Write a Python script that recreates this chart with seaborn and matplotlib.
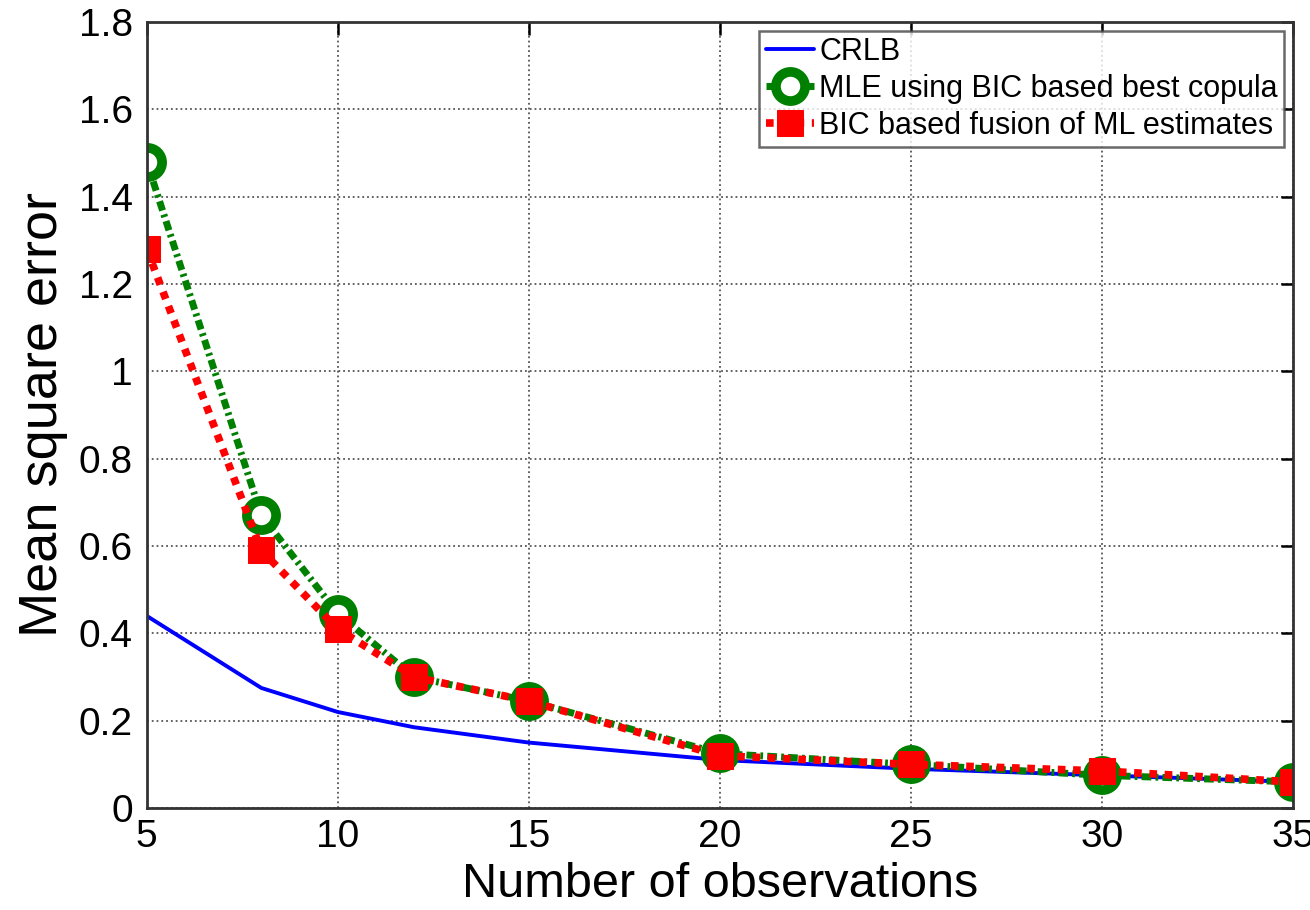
import numpy as np
import pandas as pd
import seaborn as sns
import matplotlib
matplotlib.use("Agg")
import matplotlib.pyplot as plt

# values
n_obs = [5, 8, 10, 12, 15, 20, 25, 30, 35]
crlb = [0.44, 0.275, 0.22, 0.185, 0.15, 0.11, 0.09, 0.075, 0.06]
mle_best = [1.48, 0.67, 0.445, 0.30, 0.245, 0.125, 0.10, 0.075, 0.06]
bic_fusion = [1.28, 0.59, 0.41, 0.30, 0.245, 0.12, 0.10, 0.085, 0.06]

sns.set_theme(style="white")
plt.rcParams['font.family'] = ['Liberation Sans', 'DejaVu Sans']

fig, ax = plt.subplots(figsize=(13.1, 9.1), dpi=100)

sns.lineplot(x=n_obs, y=crlb, ax=ax, color="#0000ff", linewidth=2.8, label="CRLB")
sns.lineplot(x=n_obs, y=mle_best, ax=ax, color="#008000", linewidth=5,
             dashes=False, marker="o", markersize=21, markerfacecolor="white",
             markeredgecolor="#008000", markeredgewidth=7,
             label="MLE using BIC based best copula")
ax.lines[-1].set_linestyle((0, (1.4, 0.6, 0.4, 0.6)))
sns.lineplot(x=n_obs, y=bic_fusion, ax=ax, color="#ff0000", linewidth=5.5,
             marker="s", markersize=19, markerfacecolor="#ff0000",
             markeredgecolor="#ff0000", label="BIC based fusion of ML estimates")
ax.lines[-1].set_linestyle((0, (1, 1)))

ax.set_xlim(5, 35)
ax.set_ylim(0, 1.8)
ax.set_xticks([5, 10, 15, 20, 25, 30, 35])
ax.set_yticks(np.arange(0, 1.81, 0.2))
ax.set_yticklabels(["0", "0.2", "0.4", "0.6", "0.8", "1", "1.2", "1.4", "1.6", "1.8"])
ax.grid(True, linestyle=":", color="#555555", linewidth=1.3)
ax.tick_params(direction="in", length=9, width=1.8, labelsize=28, top=True, right=True,
               pad=10, colors="black")
ax.tick_params(axis="x", pad=8)
for s in ax.spines.values():
    s.set_visible(True)
    s.set_color("#333333")
    s.set_linewidth(2)

ax.set_xlabel("Number of observations", fontsize=35, labelpad=5, color="black")
ax.set_ylabel("Mean square error", fontsize=39, labelpad=8, color="black")

leg = ax.legend(loc="upper right", fontsize=22, frameon=True, fancybox=False,
                edgecolor="#444444", borderpad=0.2, labelspacing=0.22,
                handlelength=1.6, handletextpad=0.15, borderaxespad=0.3)
leg.get_frame().set_linewidth(1.8)
for t in leg.get_texts():
    t.set_color("black")

fig.subplots_adjust(left=0.112, right=0.987, top=0.976, bottom=0.112)
fig.savefig("out.png", dpi=100)
